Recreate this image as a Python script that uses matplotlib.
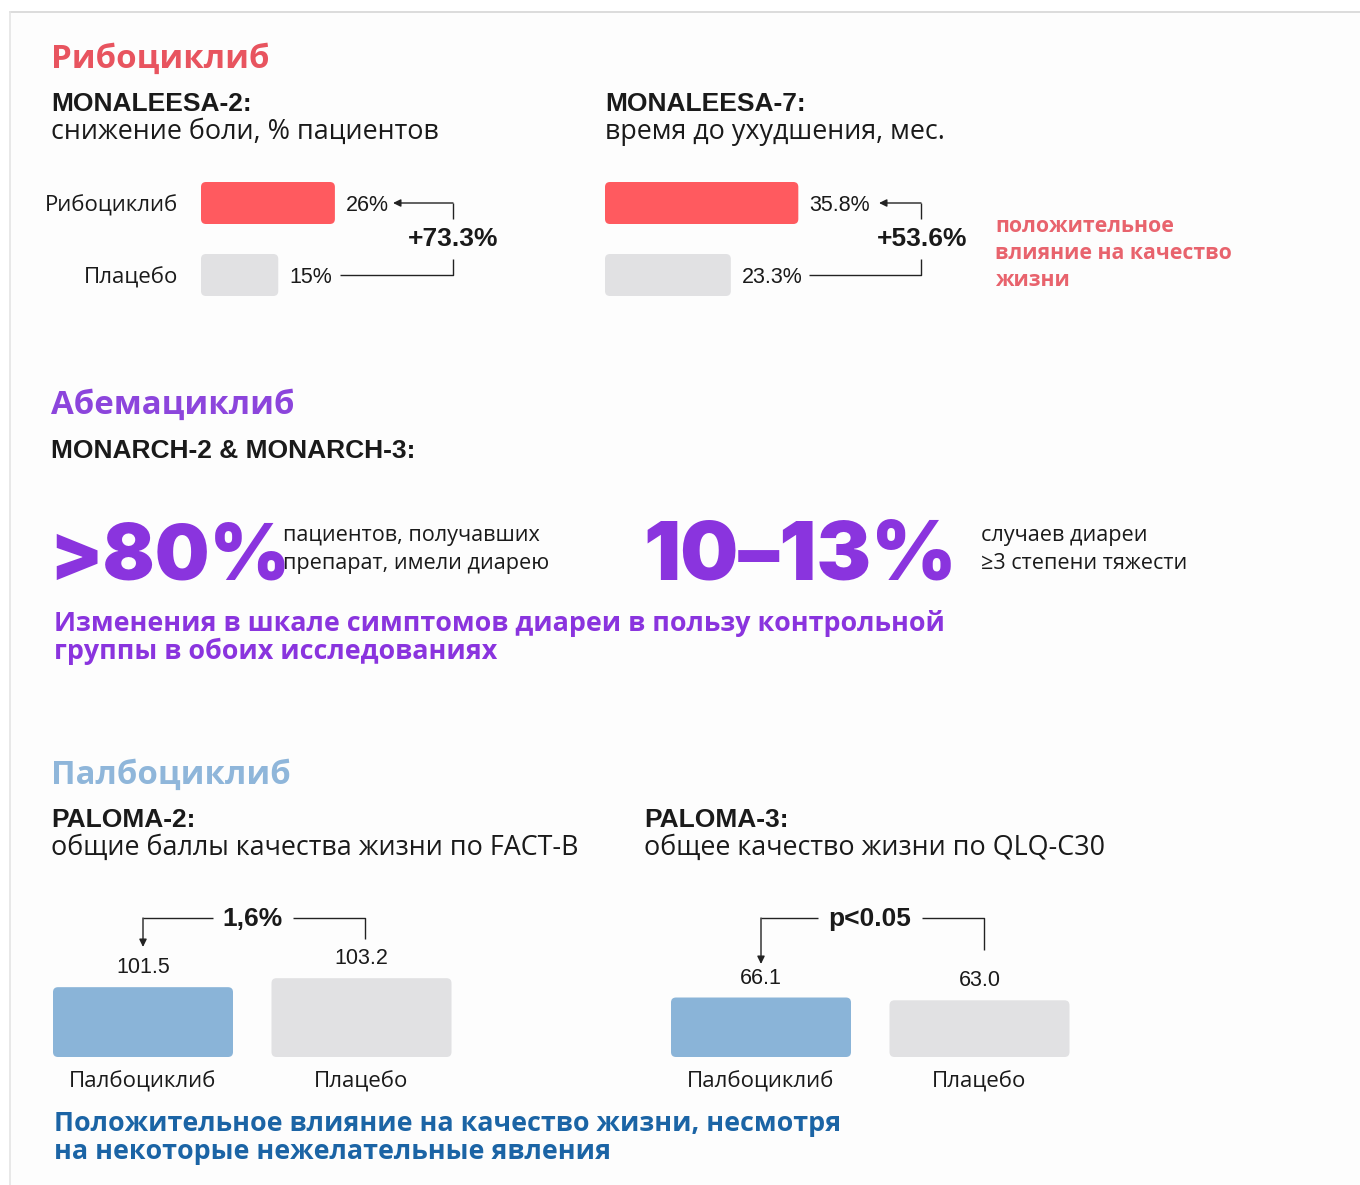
import matplotlib
matplotlib.use('Agg')
import matplotlib.pyplot as plt
from matplotlib.patches import FancyBboxPatch

# ---------------- data ----------------
ml2_groups = ['Рибоциклиб', 'Плацебо']
ml2_values = [26, 15]
ml2_diff = '+73.3%'

ml7_groups = ['Рибоциклиб', 'Плацебо']
ml7_values = [35.8, 23.3]
ml7_diff = '+53.6%'

p2_groups = ['Палбоциклиб', 'Плацебо']
p2_values = [101.5, 103.2]
p2_diff = '1,6%'

p3_groups = ['Палбоциклиб', 'Плацебо']
p3_values = [66.1, 63.0]
p3_diff = 'p<0.05'

abema_stat1 = '>80%'
abema_stat2 = '10–13%'

# ---------------- style ----------------
RED_BAR = '#ff5a5f'
RED_TXT = '#e8545f'
RED_NOTE = '#e8636d'
PURPLE = '#8a34de'
PURPLE_H = '#8c45dc'
LBLUE = '#8ab4d8'
LBLUE_H = '#8fb6da'
DBLUE = '#1b64a5'
GRAY = '#e1e1e3'
INK = '#1a1a1a'

SANS = ['Open Sans', 'DejaVu Sans']
HELV = ['Liberation Sans', 'DejaVu Sans']
HEAVY = ['Inter', 'Liberation Sans', 'DejaVu Sans']

W, H = 1360, 1185
fig = plt.figure(figsize=(W / 100, H / 100), dpi=100)
fig.patch.set_facecolor('white')
bg = fig.add_axes([0, 0, 1, 1])
bg.set_xlim(0, W)
bg.set_ylim(H, 0)
bg.axis('off')
bg.set_zorder(0)

# frame
bg.plot([10, W], [12, 12], color='#d6d6d6', lw=1.2)
bg.plot([10, 10], [12, H], color='#e4e4e4', lw=1.2)
bg.fill_between([10.5, W], 12.5, H, color='#fdfdfd', zorder=0)


def px_axes(x, y, w, h):
    ax = fig.add_axes([x / W, 1 - (y + h) / H, w / W, h / H])
    ax.patch.set_alpha(0)
    ax.axis('off')
    ax.set_zorder(2)
    return ax


def round_bars(ax, bars, r_px, wpx, hpx):
    x0, x1 = ax.get_xlim()
    y0, y1 = ax.get_ylim()
    ux = abs(x1 - x0) / wpx
    uy = abs(y1 - y0) / hpx
    for b in list(bars):
        p = FancyBboxPatch((b.get_x(), b.get_y()), b.get_width(), b.get_height(),
                           boxstyle=f"round,pad=0,rounding_size={r_px * ux}",
                           mutation_aspect=uy / ux, fc=b.get_facecolor(), ec='none')
        ax.add_patch(p)
        b.remove()


def t(x, y, s, size, color=INK, weight='normal', family=SANS, ha='left', va='baseline', **kw):
    bg.text(x, y, s, fontsize=size, color=color, fontweight=weight, family=family,
            ha=ha, va=va, **kw)


def seg(xs, ys):
    bg.plot(xs, ys, color='#222222', lw=1.0, solid_capstyle='butt', zorder=3)


def arr(x0, y0, x1, y1):
    bg.annotate('', xy=(x1, y1), xytext=(x0, y0),
                arrowprops=dict(arrowstyle='-|>,head_length=0.45,head_width=0.22',
                                lw=1.0, color='#222222', shrinkA=0, shrinkB=0,
                                mutation_scale=10), zorder=3)


# ---------------- horizontal bar panels ----------------
def hbar_panel(x, y_top, k, groups, values, colors, show_labels):
    row = 72
    wpx, hpx = 420, 2 * row
    ax = px_axes(x, y_top, wpx, hpx)
    ax.set_xlim(0, wpx / k)
    ax.set_ylim(1.5, -0.5)
    bars = ax.barh(range(len(values)), values, height=42 / row, color=colors)
    round_bars(ax, bars, 5, wpx, hpx)
    for i, v in enumerate(values):
        ax.annotate(f'{v}%', xy=(v, i), xytext=(11, 0), textcoords='offset pixels',
                    ha='left', va='center_baseline', fontsize=15.5, family=HELV,
                    color=INK)
        if show_labels:
            ax.annotate(groups[i], xy=(0, i), xytext=(-23, 0), textcoords='offset pixels',
                        ha='right', va='center_baseline', fontsize=16, family=SANS,
                        color=INK)
    return ax


hbar_panel(201, 167, 5.15, ml2_groups, ml2_values, [RED_BAR, GRAY], True)
hbar_panel(605, 167, 5.4, ml7_groups, ml7_values, [RED_BAR, GRAY], False)


# ---------------- vertical bar panels ----------------
def vbar_panel(xc0, base, ppu, groups, values, colors):
    slot = 218.5
    wpx, hpx = 2 * slot, 110
    ax = px_axes(xc0 - slot / 2, 1057 - hpx, wpx, hpx)
    ax.set_xlim(-0.5, 1.5)
    ax.set_ylim(base, base + hpx / ppu)
    bars = ax.bar(range(len(values)), [v - base for v in values], bottom=base,
                  width=180 / slot, color=colors)
    round_bars(ax, bars, 5, wpx, hpx)
    for i, v in enumerate(values):
        ax.annotate(f'{v:.1f}', xy=(i, v), xytext=(0, 14), textcoords='offset pixels',
                    ha='center', va='baseline', fontsize=15.5, family=HELV, color=INK)
        ax.annotate(groups[i], xy=(i, base), xytext=(0, -31), textcoords='offset pixels',
                    ha='center', va='baseline', fontsize=16, family=SANS, color=INK,
                    annotation_clip=False)
    return ax


vbar_panel(143, 88.3, 5.29, p2_groups, p2_values, [LBLUE, GRAY])
vbar_panel(761, 0.0, 0.9, p3_groups, p3_values, [LBLUE, GRAY])

# ---------------- Ribociclib section ----------------
t(51, 68, 'Рибоциклиб', 23.8, RED_TXT, 'bold')
t(51, 111, 'MONALEESA-2:', 19, INK, 'bold', HELV)
t(51, 139, 'снижение боли, % пациентов', 19.4)
t(605, 111, 'MONALEESA-7:', 19, INK, 'bold', HELV)
t(605, 139, 'время до ухудшения, мес.', 19.4)

# brackets ML2
seg([453, 453], [219, 203]); arr(453, 203, 393, 203)
seg([340, 453, 453], [275, 275, 259])
t(453, 246, ml2_diff, 19, INK, 'bold', HELV, ha='center')
# brackets ML7
seg([921, 921], [219, 203]); arr(921, 203, 879, 203)
seg([809, 921, 921], [275, 275, 259])
t(922, 246, ml7_diff, 19, INK, 'bold', HELV, ha='center')

t(995, 232, 'положительное', 15.3, RED_NOTE, 'bold')
t(995, 259, 'влияние на качество', 15.3, RED_NOTE, 'bold')
t(995, 286, 'жизни', 15.3, RED_NOTE, 'bold')

# ---------------- Abemaciclib section ----------------
t(51, 414, 'Абемациклиб', 23.8, PURPLE_H, 'bold')
t(51, 458, 'MONARCH-2 & MONARCH-3:', 19, INK, 'bold', HELV)
t(49, 580, abema_stat1, 55.5, PURPLE, 900, HEAVY)
t(283, 541, 'пациентов, получавших', 15.6)
t(283, 569, 'препарат, имели диарею', 15.6)
t(643, 580, abema_stat2, 59, PURPLE, 900, HEAVY)
t(981, 541, 'случаев диареи', 15.6)
t(981, 569, '≥3 степени тяжести', 15.6)
t(54, 631, 'Изменения в шкале симптомов диареи в пользу контрольной', 19.4, PURPLE, 'bold')
t(54, 659, 'группы в обоих исследованиях', 19.4, PURPLE, 'bold')

# ---------------- Palbociclib section ----------------
t(51, 784, 'Палбоциклиб', 23.8, LBLUE_H, 'bold')
t(51, 827, 'PALOMA-2:', 19, INK, 'bold', HELV)
t(51, 855, 'общие баллы качества жизни по FACT-B', 19.4)
t(644, 827, 'PALOMA-3:', 19, INK, 'bold', HELV)
t(644, 855, 'общее качество жизни по QLQ-C30', 19.4)

seg([213, 143], [918, 918]); arr(143, 918, 143, 947)
seg([293, 365, 365], [918, 918, 939])
t(253, 926, p2_diff, 19, INK, 'bold', HELV, ha='center')

seg([818, 761], [918, 918]); arr(761, 918, 761, 964)
seg([922, 984, 984], [918, 918, 950])
t(870, 926, p3_diff, 19, INK, 'bold', HELV, ha='center')

t(54, 1131, 'Положительное влияние на качество жизни, несмотря', 19.4, DBLUE, 'bold')
t(54, 1159, 'на некоторые нежелательные явления', 19.4, DBLUE, 'bold')

fig.savefig('out.png', dpi=100, facecolor='white')
